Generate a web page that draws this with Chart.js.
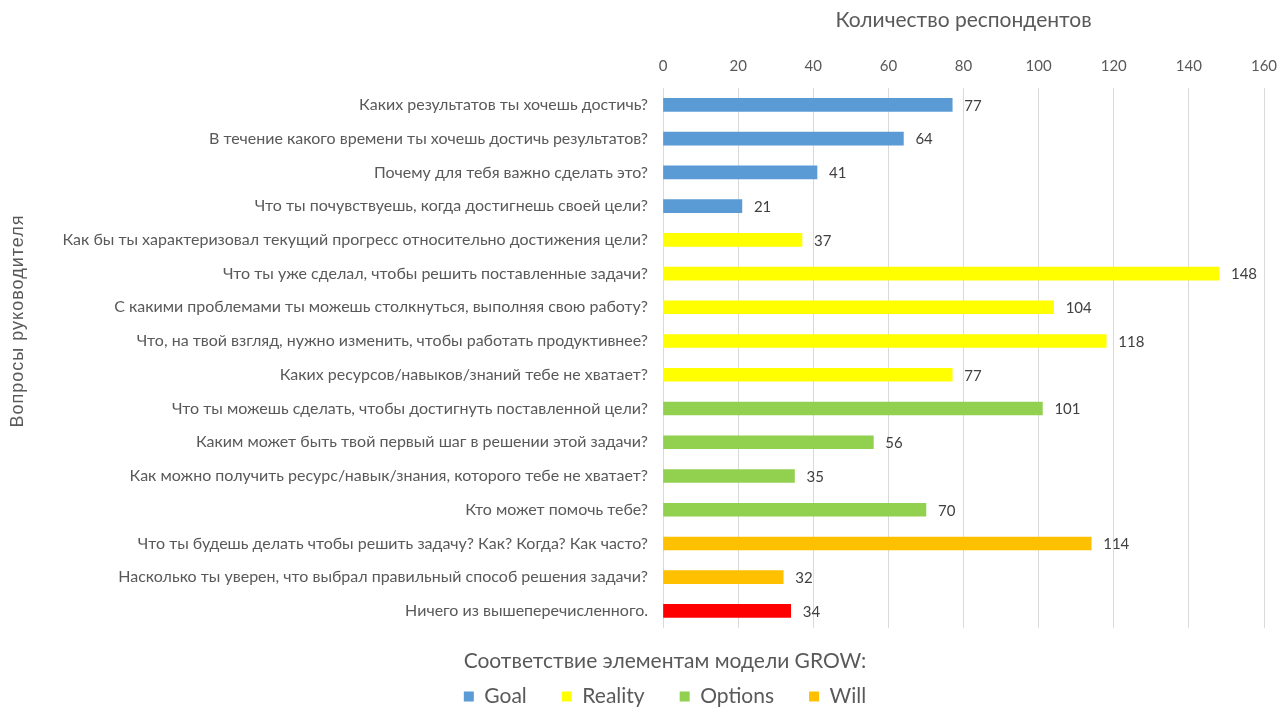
<!DOCTYPE html>
<html>
<head>
<meta charset="utf-8">
<title>GROW</title>
<script src="https://cdn.jsdelivr.net/npm/chart.js@4/dist/chart.umd.min.js"></script>
<style>
  html, body { margin: 0; padding: 0; background: #fff; }
  #wrap { width: 1277px; height: 709px; }
</style>
</head>
<body>
<div id="wrap"><canvas id="growChart"></canvas></div>
<script>
// вопросы, сгруппированные по этапам модели GROW
const questions = [
  'Каких результатов ты хочешь достичь?',
  'В течение какого времени ты хочешь достичь результатов?',
  'Почему для тебя важно сделать это?',
  'Что ты почувствуешь, когда достигнешь своей цели?',
  'Как бы ты характеризовал текущий прогресс относительно достижения цели?',
  'Что ты уже сделал, чтобы решить поставленные задачи?',
  'С какими проблемами ты можешь столкнуться, выполняя свою работу?',
  'Что, на твой взгляд, нужно изменить, чтобы работать продуктивнее?',
  'Каких ресурсов/навыков/знаний тебе не хватает?',
  'Что ты можешь сделать, чтобы достигнуть поставленной цели?',
  'Каким может быть твой первый шаг в решении этой задачи?',
  'Как можно получить ресурс/навык/знания, которого тебе не хватает?',
  'Кто может помочь тебе?',
  'Что ты будешь делать чтобы решить задачу? Как? Когда? Как часто?',
  'Насколько ты уверен, что выбрал правильный способ решения задачи?',
  'Ничего из вышеперечисленного.'
];

const goalValues    = [77, 64, 41, 21];
const realityValues = [37, 148, 104, 118, 77];
const optionsValues = [101, 56, 35, 70];
const willValues    = [114, 32];
const noneValues    = [34];

const xTicks = [0, 20, 40, 60, 80, 100, 120, 140, 160];

// раскладываем значения группы по её строкам, остальные строки пустые
let rowOffset = 0;
function placeRows(values) {
  const row = questions.map(() => null);
  values.forEach((v, i) => { row[rowOffset + i] = v; });
  rowOffset += values.length;
  return row;
}

const groups = [
  { label: 'Goal',    color: '#5B9BD5', values: goalValues },
  { label: 'Reality', color: '#FFFF00', values: realityValues },
  { label: 'Options', color: '#92D050', values: optionsValues },
  { label: 'Will',    color: '#FFC000', values: willValues },
  { label: 'Нет',     color: '#FF0000', values: noneValues }
];

const datasets = groups.map(g => ({
  label: g.label,
  data: placeRows(g.values),
  backgroundColor: g.color,
  borderColor: g.color,
  borderWidth: 0,
  barThickness: 13
}));

// подписи значений справа от столбцов
const valueLabels = {
  id: 'valueLabels',
  afterDatasetsDraw(chart) {
    const ctx = chart.ctx;
    ctx.save();
    ctx.font = '15px Lato';
    ctx.fillStyle = '#404040';
    ctx.textAlign = 'left';
    ctx.textBaseline = 'middle';
    chart.data.datasets.forEach((ds, i) => {
      chart.getDatasetMeta(i).data.forEach((bar, j) => {
        const v = ds.data[j];
        if (v === null || v === undefined) return;
        ctx.fillText(String(v), bar.x + 12, bar.y + 1);
      });
    });
    ctx.restore();
  }
};

// вертикальная подпись оси категорий
const sideTitle = {
  id: 'sideTitle',
  afterDraw(chart, args, opts) {
    const ctx = chart.ctx;
    ctx.save();
    ctx.translate(opts.x, opts.y);
    ctx.rotate(-Math.PI / 2);
    ctx.font = opts.font;
    ctx.letterSpacing = '1px';
    ctx.fillStyle = opts.color;
    ctx.textAlign = 'center';
    ctx.textBaseline = 'middle';
    ctx.fillText(opts.text, 0, 0);
    ctx.restore();
  }
};

new Chart(document.getElementById('growChart'), {
  type: 'bar',
  data: { labels: questions, datasets: datasets },
  plugins: [valueLabels, sideTitle],
  options: {
    indexAxis: 'y',
    responsive: true,
    maintainAspectRatio: false,
    animation: false,
    layout: { padding: { left: 53, right: 0, top: 0, bottom: -8 } },
    scales: {
      x: {
        position: 'top',
        stacked: true,
        min: 0,
        max: 160,
        afterBuildTicks(scale) {
          scale.ticks = xTicks.map(v => ({ value: v }));
        },
        afterFit(scale) {
          scale.height = 88;
          scale.paddingRight = 13;
        },
        grid: { color: '#d9d9d9', drawTicks: false },
        border: { display: false },
        ticks: { color: '#595959', font: { family: 'Lato', size: 15 }, padding: 13 },
        title: {
          display: true,
          text: 'Количество респондентов',
          color: '#595959',
          font: { family: 'Lato', size: 21 },
          padding: { top: 8, bottom: 0 }
        }
      },
      y: {
        stacked: true,
        afterFit(scale) { scale.width = 610; },
        grid: { display: false, drawTicks: false },
        border: { display: false },
        ticks: {
          autoSkip: false,
          color: '#595959',
          font: { family: 'Lato', size: 16 },
          padding: 15
        }
      }
    },
    plugins: {
      legend: {
        position: 'bottom',
        labels: {
          boxWidth: 10,
          boxHeight: 10,
          padding: 35,
          color: '#595959',
          font: { family: 'Lato', size: 21 },
          filter: item => item.datasetIndex < 4
        },
        title: {
          display: true,
          text: 'Соответствие элементам модели GROW:',
          color: '#595959',
          font: { family: 'Lato', size: 21 },
          padding: { top: 23, bottom: -25 }
        }
      },
      tooltip: { enabled: false },
      sideTitle: {
        text: 'Вопросы руководителя',
        x: 18,
        y: 321,
        font: '18px "Liberation Sans"',
        color: '#595959'
      }
    }
  }
});
</script>
</body>
</html>
